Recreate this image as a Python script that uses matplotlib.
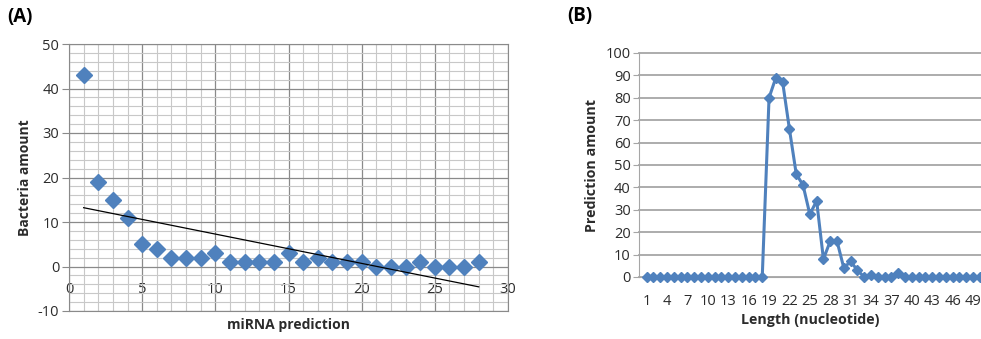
import numpy as np
import matplotlib.pyplot as plt
from matplotlib.ticker import MultipleLocator

plt.rcParams['font.family'] = ['Open Sans', 'DejaVu Sans']
plt.rcParams['axes.unicode_minus'] = False

# Panel A data: bacteria amount per miRNA prediction
mirna_x = list(range(1, 29))
bacteria = [43, 19, 15, 11, 5, 4, 2, 2, 2, 3, 1, 1, 1, 1, 3,
            1, 2, 1, 1, 1, 0, 0, 0, 1, 0, 0, 0, 1]

# Panel B data: prediction amount per nucleotide length
length_x = list(range(1, 51))
pred_amount = [0] * 18 + [80, 89, 87, 66, 46, 41, 28, 34, 8, 16, 16, 4, 7, 3, 0, 1,
                          0, 0, 0, 2] + [0] * 12
b_ticks = list(range(1, 50, 3))

blue = '#4F81BD'
txt = '#2b2b2b'
fig = plt.figure(figsize=(9.81, 3.39), dpi=100)

# ---------- panel A ----------
ax = fig.add_axes([69 / 981, 1 - 311 / 339, 439 / 981, 267 / 339])
ax.set_xlim(0, 30)
ax.set_ylim(-10, 50)
ax.xaxis.set_major_locator(MultipleLocator(5))
ax.xaxis.set_minor_locator(MultipleLocator(1))
ax.yaxis.set_major_locator(MultipleLocator(10))
ax.yaxis.set_minor_locator(MultipleLocator(2))
ax.grid(True, which='minor', color='#c8c8c8', lw=0.8)
ax.grid(True, which='major', color='#8a8a8a', lw=0.9)
ax.set_axisbelow(True)
for s in ax.spines.values():
    s.set_color('#8a8a8a')
ax.tick_params(axis='x', which='both', length=0, labelbottom=False)
ax.tick_params(axis='y', which='major', length=5, color='#8a8a8a', labelsize=10.5,
               labelcolor=txt, pad=2)
ax.tick_params(axis='y', which='minor', length=0)

ax.plot(mirna_x, bacteria, 'D', color=blue, ms=8, ls='none', zorder=3)
coef = np.polyfit(mirna_x, bacteria, 1)
ax.plot([mirna_x[0], mirna_x[-1]], np.polyval(coef, [mirna_x[0], mirna_x[-1]]),
        color='black', lw=0.9, zorder=4)

sec = ax.secondary_xaxis(1 / 6)
sec.set_xticks(range(0, 31, 5))
sec.tick_params(length=0, labelsize=10.5, labelcolor=txt, pad=11)
sec.spines['bottom'].set_visible(False)

ax.set_ylabel('Bacteria amount', fontsize=10, fontweight='bold', labelpad=4, color=txt)
ax.set_xlabel('miRNA prediction', fontsize=10, fontweight='bold', labelpad=5, color=txt)
fig.text(7 / 981, 1 - 17 / 339, '(A)', fontsize=13.5, fontweight='bold', va='center')

# ---------- panel B ----------
bx = fig.add_axes([639 / 981, 1 - 277 / 339, 342 / 981, 224 / 339])
bx.set_xlim(-0.13, 50.18)
bx.set_ylim(0, 100)
bx.yaxis.set_major_locator(MultipleLocator(10))
bx.set_xticks(b_ticks)
bx.grid(True, axis='y', color='#a6a6a6', lw=1.3)
bx.set_axisbelow(True)
for k in ['top', 'right']:
    bx.spines[k].set_visible(False)
bx.spines['left'].set_color('#a6a6a6')
bx.spines['bottom'].set_color('#a6a6a6')
bx.tick_params(axis='y', length=4, color='#a6a6a6', labelsize=10.5, labelcolor=txt, pad=2)
bx.tick_params(axis='x', length=0, labelsize=10.5, labelcolor=txt, pad=12)
for g in bx.get_ygridlines():
    g.set_clip_on(False)

bx.plot(length_x, pred_amount, '-D', color=blue, lw=2.2, ms=5, clip_on=False, zorder=3)

bx.set_ylabel('Prediction amount', fontsize=10.3, fontweight='bold', labelpad=5, color=txt)
bx.set_xlabel('Length (nucleotide)', fontsize=10.3, fontweight='bold', labelpad=3, color=txt)
fig.text(567 / 981, 1 - 16 / 339, '(B)', fontsize=13.5, fontweight='bold', va='center')

fig.savefig('out.png', dpi=100)
